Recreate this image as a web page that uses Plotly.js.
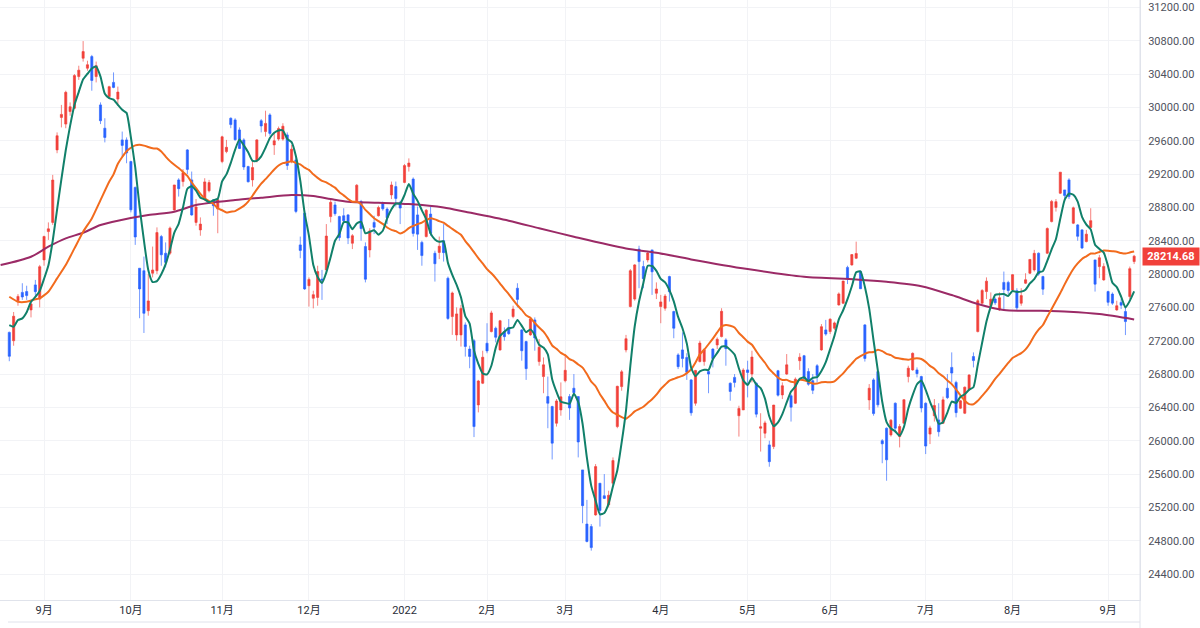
<!DOCTYPE html>
<html>
<head>
<meta charset="utf-8">
<script src="https://cdn.plot.ly/plotly-3.0.1.min.js"></script>
<style>
html,body{margin:0;padding:0;background:#fff;}
#chart{width:1200px;height:628px;}
</style>
</head>
<body>
<div id="chart"></div>
<script>
// Daily candles, 2021-08-20 .. 2022-09-09 (index = trading day)
const openVals = [
27300,27200,27680,27780,27790,27570,27870,27700,28170,28510,
28620,29490,29880,29800,29950,29990,30370,30590,30470,30610,
30370,30030,29750,30130,30300,30100,29610,29610,29350,29040,
28070,28040,27560,28010,28040,28450,28250,28250,28770,29130,
29110,29490,29130,28620,28530,28890,29000,28890,28780,29350,
29470,29870,29850,29730,29610,29290,29130,29370,29840,29710,
29910,29550,29620,29620,29670,29350,29370,28350,28730,27860,
27710,27720,27940,28050,28690,28830,28690,28700,28710,28370,
28880,28870,28330,28290,28620,28700,28850,28780,28950,29050,
28860,29100,29290,29140,28710,28380,28450,28720,28250,28260,
28400,27950,27490,27270,27270,27390,27100,27200,26430,26690,
27170,27310,27350,27090,27310,27360,27490,27830,27330,27190,
27270,27450,26950,26770,26530,26410,26210,26370,26720,26530,
26630,26530,25650,25000,24970,25110,25490,25340,25230,25490,
26170,26650,27090,27610,27700,28300,28090,28170,28290,27770,
27610,27590,27970,27550,27030,27090,27000,26730,26450,26950,
26950,26830,27100,27150,27250,27210,26690,26760,26300,26370,
26850,26800,26690,26150,26090,25950,25930,26840,26550,26800,
26540,26450,26960,27020,26830,26720,26900,27090,27330,27310,
27350,27630,27650,28080,28110,28190,28030,27390,26490,26730,
26830,26000,26150,26070,26450,26050,26210,26770,26850,26850,
26770,26450,26080,26300,26250,26210,26630,26880,26700,26390,
26330,26610,27010,27310,27650,27790,27620,27700,27570,27900,
27900,27810,27800,27650,27890,28010,28050,28250,27970,28250,
28630,28800,28970,29010,29130,28610,28590,28530,28390,28560,
28170,28090,27930,27790,27760,27570,27660,27550,27730,28150];

const highVals = [
27310,27545,27760,27890,27860,27680,27930,28110,28460,28620,
29190,29700,30030,30200,30060,30400,30500,30796,30560,30630,
30550,30060,29870,30260,30420,30250,29710,29640,29360,29050,
28070,28210,28000,28330,28560,28470,28380,28570,29070,29150,
29260,29500,29230,28900,28680,29150,29130,28900,28900,29660,
29610,29880,29870,29760,29630,29300,29350,29620,29860,29960,
29930,29700,29770,29810,29700,29550,29400,28450,28760,27960,
27800,28100,28050,28600,28900,28870,28700,28790,28720,28480,
29080,28890,28380,28550,28700,28820,28870,28800,29110,29110,
28880,29320,29388,29160,28810,28400,28780,28810,28280,28450,
28600,27970,27790,27600,27630,27420,27140,27220,26730,27080,
27410,27560,27370,27450,27360,27460,27620,27890,27340,27200,
27470,27480,27220,27000,26770,26420,26500,26700,27030,26560,
26800,26530,25650,25290,25000,25720,25490,25600,25400,25800,
26660,26850,27270,28060,28120,28340,28160,28270,28290,27900,
27750,27760,27980,27560,27050,27300,27050,26740,26850,27200,
27110,26840,27110,27240,27590,27230,26700,26800,26420,26870,
26960,27080,26700,26330,26240,26000,26430,26850,26700,27040,
26560,26760,27050,27030,26870,26800,26920,27400,27450,27470,
27430,27780,27920,28100,28240,28389,28040,27400,26680,26750,
26830,26020,26160,26260,26460,26200,26500,26900,27060,26880,
26780,26460,26180,26500,26450,26530,26800,27060,26720,26490,
26650,26800,27060,27700,27820,27960,27780,27720,27780,28030,
27920,28000,27830,27830,28010,28180,28290,28260,27980,28560,
28890,28900,29223,29010,29150,28810,28600,28540,28530,28790,
28170,28230,28130,27800,27780,27680,27700,27600,28090,28230];

const lowVals = [
26954,27140,27620,27690,27690,27480,27730,27600,28100,28410,
28590,29450,29760,29750,29900,29980,30330,30550,30440,30200,
30300,29800,29580,30100,30230,30020,29410,29330,28740,28350,
27470,27293,27500,27960,28000,28100,28080,28230,28760,28930,
29050,29200,28700,28580,28460,28880,28980,28700,28490,29330,
29450,29750,29600,29500,29250,29100,29050,29340,29700,29650,
29660,29430,29600,29600,29250,29330,28730,28190,27810,27610,
27588,27620,27690,28020,28620,28700,28400,28600,28360,28300,
28870,28400,27900,28200,28480,28690,28760,28600,28900,28810,
28600,29090,29230,28450,28290,28100,28440,28460,27910,28180,
28150,27450,27270,27200,27130,27010,26870,26044,26340,26680,
27050,27300,27180,27080,27200,27270,27470,27600,26960,26730,
27260,27080,26900,26570,26150,25775,26170,26300,26700,26250,
26550,25800,25010,24780,24681,25100,24970,25300,25200,25470,
26150,26600,27060,27600,27680,27830,27830,28140,27750,27700,
27410,27560,27670,27230,26860,26880,26730,26300,26420,26940,
26900,26570,26880,27100,27240,26900,26480,26640,26050,26370,
26520,26700,26280,25870,26030,25688,25900,26530,26500,26790,
26230,26440,26850,26720,26660,26560,26700,27080,27260,27280,
27330,27620,27640,27880,28100,28180,27820,26950,26370,26300,
26400,25730,25520,26050,26100,25920,26200,26700,26840,26760,
26340,25840,25960,26230,26050,26200,26500,26700,26280,26380,
26320,26600,26880,27300,27640,27700,27600,27630,27560,27560,
27760,27790,27570,27620,27880,28000,28030,27980,27750,28240,
28620,28750,28960,28870,28900,28600,28400,28300,28380,28550,
27790,27950,27920,27620,27630,27560,27580,27268,27700,28120];

const closeVals = [
27013,27494,27732,27725,27742,27641,27789,28089,28451,28543,
29128,29660,29916,30181,30008,30382,30447,30670,30512,30323,
30500,29840,29639,30249,30240,30184,29544,29453,28771,28445,
27822,27529,27678,28049,28498,28231,28140,28551,29069,29025,
29216,29256,28709,28805,28600,29106,29098,28820,28893,29647,
29521,29794,29612,29507,29285,29107,29278,29610,29777,29808,
29688,29599,29746,29774,29303,29499,28752,28284,27822,27936,
27753,28030,27927,28456,28861,28725,28438,28640,28433,28460,
29066,28546,27938,28518,28562,28798,28783,28676,29069,28907,
28792,29302,29332,28488,28479,28222,28766,28489,28124,28334,
28257,27467,27773,27522,27588,27131,27011,26170,26717,27002,
27078,27534,27241,27440,27249,27285,27580,27696,27080,26865,
27460,27233,27122,26911,26450,25971,26477,26527,26845,26393,
26577,25985,25221,24791,24718,25690,25163,25308,25346,25762,
26653,26827,27224,28040,28110,28150,27944,28252,28027,27821,
27666,27736,27788,27350,26889,26986,26822,26335,26843,27172,
27093,26800,26985,27218,27553,27105,26591,26700,26387,26848,
26819,27004,26319,26167,26214,25749,26428,26547,26660,26911,
26403,26739,27002,26748,26678,26605,26782,27369,27280,27458,
27414,27762,27916,27944,28234,28247,27824,26987,26630,26326,
26431,25963,25771,26246,26150,26171,26492,26871,27049,26805,
26393,25936,26154,26423,26108,26491,26517,26812,26337,26479,
26643,26788,26962,27680,27803,27915,27699,27655,27716,27815,
27802,27993,27595,27742,27932,28176,28249,28000,27819,28547,
28872,28869,29223,28942,28930,28795,28453,28313,28479,28641,
27879,28196,28092,27661,27651,27620,27627,27430,28065,28214.68];

// Month tick positions (trading-day index) and labels
const monthTickIdx  = [8, 28, 49, 69, 91, 110, 128, 150, 170, 189, 211, 231, 253];
const monthTickText = ['9月','10月','11月','12月','2022','2月','3月','4月','5月','6月','7月','8月','9月'];

// Moving-average values read at the left edge (before a full window exists)
const greenEarlyIdx = [0, 1, 2, 3];
const greenEarlyVal = [27388, 27368, 27448, 27468];
const orangeEarlyIdx = [0, 2, 4, 6, 7, 9, 11, 13, 15, 17, 19, 21, 23];
const orangeEarlyVal = [27728, 27668, 27668, 27697, 27708, 27788, 27948, 28108, 28308, 28508, 28668, 28888, 29108];

// Long moving average (purple)
const purpleIdx = [-2, 5, 9, 13, 17, 21, 25, 32, 38, 43, 52, 58, 65, 70, 74, 78, 85, 92, 100, 105, 115, 122, 130, 142, 149, 157, 170, 183, 195, 202, 210, 217, 223, 229, 237, 244, 251, 259];
const purpleVal = [28108, 28208, 28328, 28428, 28496, 28588, 28640, 28708, 28748, 28828, 28888, 28916, 28948, 28936, 28900, 28868, 28856, 28840, 28800, 28748, 28640, 28550, 28448, 28308, 28256, 28176, 28060, 27968, 27936, 27908, 27855, 27748, 27640, 27568, 27560, 27548, 27520, 27456];

const lastPrice = 28214.68;

const idx = closeVals.map((_, i) => i);

function movingAvg(vals, n) {
  const xs = [], ys = [];
  let s = 0;
  for (let i = 0; i < vals.length; i++) {
    s += vals[i];
    if (i >= n) s -= vals[i - n];
    if (i >= n - 1) { xs.push(i); ys.push(s / n); }
  }
  return {xs, ys};
}
const ma5 = movingAvg(closeVals, 5);
const ma25 = movingAvg(closeVals, 25);

const UP = '#f1403a', DOWN = '#2962ff';

const candle = {
  type: 'candlestick',
  x: idx, open: openVals, high: highVals, low: lowVals, close: closeVals,
  increasing: {line: {color: 'rgba(241,64,58,0.65)', width: 1}, fillcolor: UP},
  decreasing: {line: {color: 'rgba(41,98,255,0.65)', width: 1}, fillcolor: DOWN},
  whiskerwidth: 0,
  hoverinfo: 'skip',
  showlegend: false
};

const purple = {
  type: 'scatter', mode: 'lines', x: purpleIdx, y: purpleVal,
  line: {color: '#9b2a66', width: 2, shape: 'spline', smoothing: 0.8},
  hoverinfo: 'skip', showlegend: false
};
const orange = {
  type: 'scatter', mode: 'lines',
  x: orangeEarlyIdx.concat(ma25.xs), y: orangeEarlyVal.concat(ma25.ys),
  line: {color: '#f26b1d', width: 2, shape: 'spline', smoothing: 0.5},
  hoverinfo: 'skip', showlegend: false
};
const green = {
  type: 'scatter', mode: 'lines',
  x: greenEarlyIdx.concat(ma5.xs), y: greenEarlyVal.concat(ma5.ys),
  line: {color: '#11806a', width: 2, shape: 'spline', smoothing: 0.5},
  hoverinfo: 'skip', showlegend: false
};

const FONT = 'Roboto, "Noto Sans CJK JP", sans-serif';

const layout = {
  width: 1200, height: 628,
  margin: {l: 0, r: 60, t: 0, b: 28, pad: 0},
  paper_bgcolor: '#ffffff', plot_bgcolor: '#ffffff',
  showlegend: false,
  xaxis: {
    type: 'linear',
    range: [-2.14, 260.35],
    tickmode: 'array', tickvals: monthTickIdx, ticktext: monthTickText,
    showgrid: true, gridcolor: '#f2f3f6', gridwidth: 1,
    zeroline: false, showline: true, linecolor: '#e0e3eb', linewidth: 1,
    ticks: '', tickfont: {family: FONT, size: 11, color: '#2a2e39'},
    rangeslider: {visible: false}, fixedrange: true
  },
  yaxis: {
    side: 'right',
    range: [24088.8, 31288.8],
    tick0: 24400, dtick: 400, tickformat: '.2f',
    showgrid: true, gridcolor: '#f2f3f6', gridwidth: 1,
    zeroline: false, showline: true, linecolor: '#e0e3eb', linewidth: 1,
    ticks: '', ticklabelstandoff: 5,
    tickfont: {family: FONT, size: 11, color: '#50535e'},
    fixedrange: true
  },
  shapes: [
    {type: 'line', xref: 'paper', yref: 'paper', x0: 0.007, x1: 1, y0: -0.0367, y1: -0.0367,
     line: {color: '#e0e3eb', width: 1}},
    {type: 'line', xref: 'paper', yref: 'paper', x0: 1, x1: 1, y0: -0.05, y1: 1,
     line: {color: '#e0e3eb', width: 1}}
  ],
  annotations: [{
    xref: 'paper', x: 1, xanchor: 'left', xshift: 2,
    yref: 'y', y: lastPrice, yanchor: 'middle',
    text: '<b>' + lastPrice.toFixed(2) + '</b>', showarrow: false,
    bgcolor: UP, font: {family: FONT, size: 11, color: '#ffffff'},
    borderpad: 2, width: 52, align: 'center'
  }]
};

Plotly.newPlot('chart', [candle, purple, orange, green], layout, {staticPlot: true, displayModeBar: false});
</script>
</body>
</html>
